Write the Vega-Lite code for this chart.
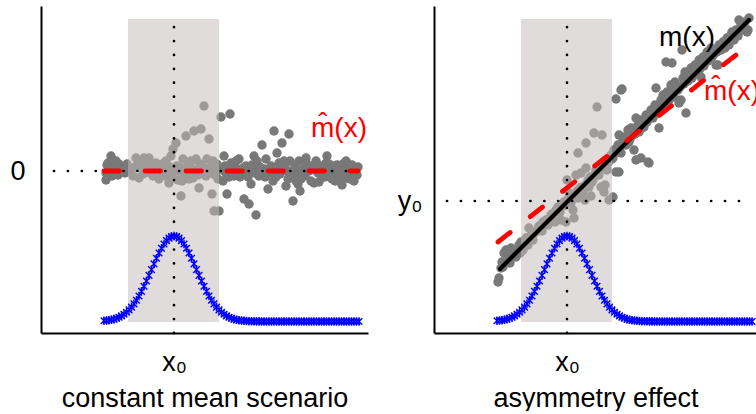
{
"$schema": "https://vega.github.io/schema/vega-lite/v6.json",
"background": "white",
"padding": {"left": 9, "top": 6, "right": 0, "bottom": 0},
"spacing": 66,
"bounds": "flush",
"config": {
  "view": {"stroke": null},
  "font": "Liberation Sans",
  "axis": {"domainColor": "black", "domainWidth": 2, "ticks": false, "tickSize": 0, "grid": false, "labelFont": "Liberation Sans", "labelFontSize": 27, "labelColor": "black", "titleFont": "Liberation Sans", "titleFontSize": 27, "titleFontWeight": "normal", "titleColor": "black", "labelOverlap": false, "labelFlush": false}
},
"datasets": {
  "gauss": [
    {"x":6.3,"y":1.22},{"x":6.55,"y":1.25},{"x":6.8,"y":1.28},{"x":7.05,"y":1.33},{"x":7.3,"y":1.39},{"x":7.55,"y":1.48},{"x":7.8,"y":1.58},{"x":8.05,"y":1.71},{"x":8.3,"y":1.87},{"x":8.55,"y":2.07},{"x":8.8,"y":2.31},{"x":9.05,"y":2.59},{"x":9.3,"y":2.91},{"x":9.55,"y":3.28},{"x":9.8,"y":3.7},{"x":10.05,"y":4.16},{"x":10.3,"y":4.67},{"x":10.55,"y":5.2},{"x":10.8,"y":5.76},{"x":11.05,"y":6.34},{"x":11.3,"y":6.91},{"x":11.55,"y":7.47},{"x":11.8,"y":8.0},{"x":12.05,"y":8.48},{"x":12.3,"y":8.9},{"x":12.55,"y":9.24},{"x":12.8,"y":9.49},{"x":13.05,"y":9.65},{"x":13.3,"y":9.7},{"x":13.55,"y":9.65},{"x":13.8,"y":9.49},{"x":14.05,"y":9.24},{"x":14.3,"y":8.9},{"x":14.55,"y":8.48},{"x":14.8,"y":8.0},{"x":15.05,"y":7.47},{"x":15.3,"y":6.91},{"x":15.55,"y":6.34},{"x":15.8,"y":5.76},{"x":16.05,"y":5.2},{"x":16.3,"y":4.67},{"x":16.55,"y":4.16},{"x":16.8,"y":3.7},{"x":17.05,"y":3.28},{"x":17.3,"y":2.91},{"x":17.55,"y":2.59},{"x":17.8,"y":2.31},{"x":18.05,"y":2.07},{"x":18.3,"y":1.87},{"x":18.55,"y":1.71},{"x":18.8,"y":1.58},{"x":19.05,"y":1.48},{"x":19.3,"y":1.39},{"x":19.55,"y":1.33},{"x":19.8,"y":1.28},{"x":20.05,"y":1.25},{"x":20.3,"y":1.22},{"x":20.55,"y":1.2},{"x":20.8,"y":1.18},{"x":21.05,"y":1.17},{"x":21.3,"y":1.17},{"x":21.55,"y":1.16},{"x":21.8,"y":1.16},{"x":22.05,"y":1.15},{"x":22.3,"y":1.15},{"x":22.55,"y":1.15},{"x":22.8,"y":1.15},{"x":23.05,"y":1.15},{"x":23.3,"y":1.15},{"x":23.55,"y":1.15},{"x":23.8,"y":1.15},{"x":24.05,"y":1.15},{"x":24.3,"y":1.15},{"x":24.55,"y":1.15},{"x":24.8,"y":1.15},{"x":25.05,"y":1.15},{"x":25.3,"y":1.15},{"x":25.55,"y":1.15},{"x":25.8,"y":1.15},{"x":26.05,"y":1.15},{"x":26.3,"y":1.15},{"x":26.55,"y":1.15},{"x":26.8,"y":1.15},{"x":27.05,"y":1.15},{"x":27.3,"y":1.15},{"x":27.55,"y":1.15},{"x":27.8,"y":1.15},{"x":28.05,"y":1.15},{"x":28.3,"y":1.15},{"x":28.55,"y":1.15},{"x":28.8,"y":1.15},{"x":29.05,"y":1.15},{"x":29.3,"y":1.15},{"x":29.55,"y":1.15},{"x":29.8,"y":1.15},{"x":30.05,"y":1.15},{"x":30.3,"y":1.15},{"x":30.55,"y":1.15},{"x":30.8,"y":1.15},{"x":31.05,"y":1.15},{"x":31.3,"y":1.15},{"x":31.55,"y":1.15},{"x":31.8,"y":1.15}
  ],
  "band": [{"x": 8.7, "x2": 17.8, "y": 1.1, "y2": 31.4}],
  "vline": [{"x": 13.3, "y": 0, "y2": 31.8}],
  "leftPts": [
    {"x":6.5,"y":15.3},{"x":6.8,"y":16.4},{"x":7.0,"y":17.7},{"x":7.3,"y":16.7},{"x":7.5,"y":17.2},{"x":7.8,"y":16.9},{"x":8.0,"y":16.2},{"x":8.2,"y":16.5},{"x":6.5,"y":16.0},{"x":7.1,"y":15.7},{"x":7.7,"y":15.8},{"x":8.4,"y":16.0},{"x":6.7,"y":17.0},
    {"x":9.2,"y":15.7},{"x":9.5,"y":17.5},{"x":9.8,"y":15.5},{"x":10.0,"y":16.7},{"x":10.3,"y":17.5},{"x":10.5,"y":16.2},{"x":10.8,"y":17.5},{"x":11.0,"y":16.6},{"x":11.2,"y":15.7},{"x":11.5,"y":17.0},{"x":11.8,"y":15.4},{"x":12.0,"y":16.5},{"x":12.2,"y":16.0},{"x":12.5,"y":17.2},{"x":12.7,"y":15.5},{"x":12.8,"y":15.0},{"x":13.0,"y":17.7},{"x":13.2,"y":18.4},{"x":13.5,"y":19.0},{"x":13.6,"y":16.7},{"x":13.8,"y":16.2},{"x":14.0,"y":13.7},{"x":14.2,"y":17.4},{"x":14.4,"y":15.7},{"x":14.5,"y":19.7},{"x":14.7,"y":16.7},{"x":14.8,"y":15.4},{"x":15.0,"y":17.2},{"x":15.3,"y":20.2},{"x":15.5,"y":17.4},{"x":15.6,"y":16.2},{"x":15.8,"y":14.5},{"x":16.0,"y":20.4},{"x":16.1,"y":16.7},{"x":16.3,"y":22.7},{"x":16.5,"y":15.7},{"x":16.6,"y":17.4},{"x":16.8,"y":19.4},{"x":16.8,"y":16.5},{"x":17.0,"y":16.0},{"x":17.1,"y":13.9},{"x":17.2,"y":17.2},{"x":17.3,"y":12.2},{"x":17.5,"y":16.4},{"x":17.7,"y":15.4},{"x":17.8,"y":12.2},{"x":13.4,"y":16.2},{"x":12.3,"y":17.0},{"x":10.6,"y":16.9},{"x":8.8,"y":16.4},{"x":14.0,"y":16.5},{"x":15.1,"y":16.1},{"x":15.9,"y":16.9},{"x":16.4,"y":16.4},
    {"x":18.0,"y":21.6},{"x":18.9,"y":21.9},{"x":18.3,"y":17.7},{"x":18.4,"y":16.7},{"x":18.2,"y":15.2},{"x":18.6,"y":13.9},{"x":18.7,"y":16.2},{"x":19.0,"y":17.0},{"x":19.3,"y":15.7},{"x":19.6,"y":16.4},{"x":19.8,"y":17.4},{"x":20.0,"y":16.0},{"x":20.3,"y":13.4},{"x":20.5,"y":16.7},{"x":20.8,"y":12.9},{"x":21.0,"y":14.9},{"x":21.2,"y":16.2},{"x":21.5,"y":11.8},{"x":21.6,"y":17.2},{"x":21.8,"y":15.7},{"x":22.1,"y":18.8},{"x":22.3,"y":16.4},{"x":22.5,"y":17.4},{"x":22.7,"y":14.4},{"x":22.8,"y":16.0},{"x":23.0,"y":16.7},{"x":23.3,"y":20.2},{"x":23.5,"y":15.6},{"x":23.8,"y":17.0},{"x":24.1,"y":19.0},{"x":24.3,"y":17.2},{"x":24.5,"y":14.7},{"x":24.6,"y":16.2},{"x":24.8,"y":19.9},{"x":25.0,"y":15.7},{"x":25.2,"y":13.2},{"x":25.4,"y":16.7},{"x":25.6,"y":16.0},{"x":25.8,"y":17.2},{"x":26.0,"y":15.4},{"x":26.2,"y":16.4},{"x":26.4,"y":15.7},{"x":26.6,"y":16.9},{"x":26.8,"y":16.2},{"x":27.0,"y":15.2},{"x":27.2,"y":16.6},{"x":27.3,"y":15.0},{"x":27.5,"y":17.2},{"x":27.7,"y":16.0},{"x":27.9,"y":16.7},{"x":28.1,"y":15.6},{"x":28.3,"y":16.2},{"x":28.5,"y":17.0},{"x":28.7,"y":15.7},{"x":28.9,"y":16.4},{"x":29.1,"y":15.4},{"x":29.3,"y":16.7},{"x":29.5,"y":16.0},{"x":29.7,"y":16.4},{"x":29.8,"y":16.2},{"x":30.0,"y":15.7},{"x":30.2,"y":16.9},{"x":30.4,"y":16.2},{"x":30.6,"y":15.5},{"x":30.8,"y":16.6},{"x":31.0,"y":16.0},{"x":31.2,"y":16.4},{"x":31.3,"y":15.2},{"x":31.5,"y":16.2},{"x":31.7,"y":16.6},{"x":19.5,"y":17.2},{"x":20.7,"y":15.6},{"x":22.0,"y":16.2},{"x":23.2,"y":15.2},{"x":24.0,"y":16.4},{"x":24.9,"y":17.2},{"x":25.7,"y":14.9},{"x":26.5,"y":17.5},{"x":27.8,"y":15.1},{"x":28.6,"y":17.7},{"x":29.4,"y":15.2},{"x":30.5,"y":17.2},{"x":30.1,"y":14.8},{"x":25.9,"y":14.2},{"x":23.6,"y":18.0},{"x":21.3,"y":17.7},
    {"x":6.6,"y":16.8},{"x":7.4,"y":15.9},{"x":7.9,"y":16.0},{"x":8.6,"y":16.9},{"x":9.0,"y":16.3},{"x":9.4,"y":16.6},{"x":9.7,"y":16.9},{"x":10.2,"y":15.9},{"x":10.9,"y":16.0},{"x":11.3,"y":16.4},{"x":11.7,"y":16.8},{"x":12.1,"y":15.8},{"x":12.6,"y":16.3},{"x":12.9,"y":16.6},{"x":13.1,"y":15.9},{"x":13.7,"y":15.3},{"x":14.1,"y":15.2},{"x":14.3,"y":16.0},{"x":14.6,"y":15.8},{"x":14.9,"y":16.9},{"x":15.2,"y":15.5},{"x":15.4,"y":16.3},{"x":15.7,"y":15.8},{"x":16.2,"y":16.1},{"x":16.7,"y":16.3},{"x":17.1,"y":16.6},{"x":17.4,"y":15.8},{"x":17.6,"y":16.9},{"x":18.1,"y":16.3},{"x":18.5,"y":16.0},{"x":18.8,"y":15.6},{"x":19.2,"y":16.3},{"x":19.9,"y":15.6},{"x":20.2,"y":16.5},{"x":20.6,"y":15.9},{"x":21.1,"y":16.8},{"x":21.4,"y":16.0},{"x":21.9,"y":16.6},{"x":22.4,"y":15.6},{"x":22.9,"y":16.5},{"x":23.4,"y":16.2},{"x":23.9,"y":15.9},{"x":24.4,"y":16.6},{"x":24.7,"y":15.4},{"x":25.3,"y":16.3},{"x":25.5,"y":15.2},{"x":26.1,"y":15.9},{"x":26.9,"y":16.7},{"x":27.4,"y":16.3},{"x":28.0,"y":16.6},{"x":28.4,"y":15.6},{"x":28.8,"y":16.9},{"x":29.2,"y":15.9},{"x":29.6,"y":16.8},{"x":29.9,"y":15.5},{"x":30.3,"y":16.4},{"x":30.7,"y":16.0},{"x":30.9,"y":15.4},{"x":31.1,"y":16.8},{"x":31.6,"y":15.8}
  ],
  "rightPts": [
    {"x":6.4,"y":5.1},{"x":6.5,"y":5.5},{"x":6.7,"y":6.5},{"x":6.8,"y":7.1},{"x":7.0,"y":8.0},{"x":7.2,"y":8.3},{"x":7.4,"y":7.5},{"x":7.7,"y":8.5},{"x":7.9,"y":7.8},{"x":8.2,"y":7.6},{"x":8.5,"y":8.8},{"x":8.7,"y":9.1},{"x":8.9,"y":8.3},{"x":9.2,"y":9.5},{"x":9.4,"y":8.8},{"x":9.5,"y":10.5},{"x":9.7,"y":9.8},{"x":9.9,"y":9.3},{"x":10.2,"y":10.1},{"x":10.5,"y":10.7},{"x":10.7,"y":10.3},{"x":10.9,"y":11.1},{"x":11.2,"y":11.3},{"x":11.4,"y":10.8},{"x":11.7,"y":11.8},{"x":11.9,"y":11.6},{"x":12.1,"y":11.1},{"x":12.4,"y":12.6},{"x":12.6,"y":12.1},{"x":12.7,"y":11.3},{"x":13.0,"y":13.1},{"x":13.2,"y":11.1},{"x":13.3,"y":15.3},{"x":13.5,"y":14.0},{"x":13.7,"y":13.0},{"x":13.9,"y":12.3},{"x":14.0,"y":11.5},{"x":14.2,"y":14.0},{"x":14.2,"y":15.8},{"x":14.4,"y":13.5},{"x":14.4,"y":18.0},{"x":14.6,"y":14.5},{"x":14.7,"y":16.0},{"x":14.9,"y":14.1},{"x":15.1,"y":13.3},{"x":15.2,"y":16.5},{"x":15.2,"y":19.0},{"x":15.4,"y":15.3},{"x":15.5,"y":14.6},{"x":15.7,"y":13.7},{"x":15.8,"y":15.1},{"x":15.9,"y":15.3},{"x":16.0,"y":20.0},{"x":16.2,"y":16.3},{"x":16.3,"y":22.6},{"x":16.5,"y":15.8},{"x":16.7,"y":14.6},{"x":16.7,"y":16.5},{"x":16.8,"y":19.8},{"x":17.0,"y":14.1},{"x":17.1,"y":14.8},{"x":17.2,"y":17.3},{"x":17.3,"y":16.3},{"x":17.5,"y":13.3},{"x":17.7,"y":17.8},{"x":17.9,"y":13.6},{"x":17.9,"y":17.5},{"x":18.0,"y":18.3},{"x":18.2,"y":16.1},{"x":18.2,"y":23.4},{"x":18.4,"y":18.8},{"x":18.5,"y":19.8},{"x":18.5,"y":16.1},{"x":18.7,"y":18.0},{"x":18.7,"y":24.3},{"x":18.8,"y":24.4},{"x":18.9,"y":19.3},{"x":19.0,"y":19.6},{"x":19.2,"y":18.8},{"x":19.4,"y":20.3},{"x":19.5,"y":19.1},{"x":19.7,"y":20.5},{"x":19.9,"y":19.8},{"x":20.0,"y":18.3},{"x":20.2,"y":17.3},{"x":20.2,"y":21.5},{"x":20.4,"y":20.8},{"x":20.6,"y":21.3},{"x":20.7,"y":17.5},{"x":20.8,"y":20.5},{"x":21.0,"y":20.6},{"x":21.2,"y":21.8},{"x":21.4,"y":17.1},{"x":21.5,"y":21.8},{"x":21.5,"y":17.0},{"x":21.7,"y":22.3},{"x":21.9,"y":21.5},{"x":22.1,"y":22.8},{"x":22.2,"y":24.5},{"x":22.4,"y":22.1},{"x":22.5,"y":20.5},{"x":22.7,"y":23.3},{"x":22.9,"y":23.8},{"x":23.0,"y":22.5},{"x":23.2,"y":27.1},{"x":23.3,"y":24.1},{"x":23.5,"y":23.3},{"x":23.7,"y":24.8},{"x":23.8,"y":27.0},{"x":23.9,"y":24.0},{"x":24.1,"y":25.1},{"x":24.3,"y":24.3},{"x":24.5,"y":23.0},{"x":24.7,"y":23.3},{"x":24.8,"y":28.3},{"x":24.9,"y":25.5},{"x":25.1,"y":26.1},{"x":25.2,"y":22.0},{"x":25.3,"y":25.3},{"x":25.5,"y":26.1},{"x":25.7,"y":26.5},{"x":25.9,"y":25.8},{"x":26.1,"y":26.8},{"x":26.3,"y":26.3},{"x":26.5,"y":27.3},{"x":26.7,"y":25.6},{"x":26.9,"y":27.6},{"x":27.1,"y":27.1},{"x":27.3,"y":28.1},{"x":27.5,"y":27.5},{"x":27.7,"y":28.5},{"x":27.9,"y":27.8},{"x":28.2,"y":26.8},{"x":28.4,"y":26.8},{"x":28.5,"y":28.8},{"x":28.7,"y":28.3},{"x":28.9,"y":29.1},{"x":29.1,"y":28.5},{"x":29.3,"y":29.5},{"x":29.5,"y":28.8},{"x":29.7,"y":29.8},{"x":29.8,"y":30.1},{"x":30.0,"y":29.3},{"x":30.2,"y":30.3},{"x":30.4,"y":29.7},{"x":30.5,"y":31.3},{"x":30.7,"y":30.8},{"x":30.9,"y":30.3},{"x":31.1,"y":31.1},{"x":31.3,"y":30.1},{"x":31.4,"y":30.3},{"x":31.5,"y":31.5},
    {"x":6.9,"y":6.6},{"x":7.3,"y":7.3},{"x":7.6,"y":7.0},{"x":8.0,"y":8.1},{"x":8.3,"y":8.3},{"x":8.6,"y":8.0},{"x":9.0,"y":8.9},{"x":9.3,"y":9.0},{"x":9.6,"y":9.6},{"x":10.0,"y":10.0},{"x":10.4,"y":10.4},{"x":10.8,"y":10.2},{"x":11.1,"y":11.0},{"x":11.5,"y":11.4},{"x":11.8,"y":11.9},{"x":12.2,"y":12.3},{"x":12.9,"y":12.7},{"x":13.4,"y":13.4},{"x":13.8,"y":13.7},{"x":14.3,"y":14.2},{"x":14.8,"y":14.6},{"x":15.3,"y":15.0},{"x":15.6,"y":15.6},{"x":16.1,"y":15.9},{"x":16.4,"y":16.4},{"x":16.9,"y":16.7},{"x":17.4,"y":17.0},{"x":17.8,"y":17.4},{"x":18.3,"y":18.1},{"x":18.6,"y":18.6},{"x":19.1,"y":18.9},{"x":19.6,"y":19.4},{"x":20.1,"y":19.9},{"x":20.5,"y":20.1},{"x":20.9,"y":20.7},{"x":21.3,"y":21.1},{"x":21.8,"y":21.6},{"x":22.3,"y":22.0},{"x":22.8,"y":22.6},{"x":23.4,"y":23.1},{"x":23.6,"y":23.6},{"x":24.0,"y":23.6},{"x":24.4,"y":24.3},{"x":24.6,"y":24.6},{"x":25.0,"y":24.9},{"x":25.4,"y":25.2},{"x":25.8,"y":25.5},{"x":26.2,"y":26.0},{"x":26.6,"y":26.4},{"x":27.0,"y":26.7},{"x":27.4,"y":27.2},{"x":27.8,"y":27.6},{"x":28.0,"y":27.9},{"x":28.3,"y":28.1},{"x":28.8,"y":28.6},{"x":29.2,"y":29.0},{"x":29.6,"y":29.4},{"x":30.1,"y":29.9},{"x":30.6,"y":30.4},{"x":31.0,"y":30.9}
  ]
},
"hconcat": [
  {
    "width": 327, "height": 327,
    "encoding": {
      "x": {"field": "x", "type": "quantitative", "scale": {"domain": [0, 32.7], "nice": false, "zero": false},
            "axis": {"values": [13.3], "labelExpr": "'x₀'", "labelPadding": 16, "title": "constant mean scenario", "titlePadding": 10}},
      "y": {"field": "y", "type": "quantitative", "scale": {"domain": [0, 32.7], "nice": false, "zero": false},
            "axis": {"values": [16.2], "labelExpr": "'0'", "labelPadding": 16, "title": null}}
    },
    "layer": [
      {"data": {"name": "leftPts"}, "mark": {"type": "circle", "size": 88, "color": "#787878", "opacity": 1}},
      {"data": {"name": "band"}, "mark": {"type": "rect", "color": "#c3bcbc", "opacity": 0.52}, "encoding": {"x2": {"field": "x2"}, "y2": {"field": "y2"}}},
      {"data": {"name": "vline"}, "mark": {"type": "rule", "color": "black", "strokeWidth": 2.7, "strokeCap": "round", "strokeDash": [0.1, 13.8]}, "encoding": {"y2": {"field": "y2"}}},
      {"data": {"values": [{"x": 1.3, "x2": 31.8, "y": 16.2}]}, "mark": {"type": "rule", "color": "black", "strokeWidth": 2.7, "strokeCap": "round", "strokeDash": [0.1, 13.8]}, "encoding": {"x2": {"field": "x2"}}},
      {"data": {"values": [{"x": 6.3, "y": 16.2}, {"x": 31.7, "y": 16.2}]}, "mark": {"type": "line", "color": "#ff0000", "strokeWidth": 4.8, "strokeCap": "round", "strokeDash": [15.5, 25.5]}},
      {"data": {"name": "gauss"}, "mark": {"type": "point", "shape": "M-1,-1L1,1M-1,1L1,-1M0,-1.3L0,1.3", "size": 44, "color": "#0000ff", "filled": false, "strokeWidth": 1.4, "opacity": 1}},
      {"data": {"values": [{"x": 27.0, "y": 20.45, "t": "m̂(x)"}]}, "mark": {"type": "text", "align": "left", "baseline": "middle", "fontSize": 28, "color": "#ff0000"}, "encoding": {"text": {"field": "t"}}}
    ]
  },
  {
    "width": 323, "height": 327,
    "encoding": {
      "x": {"field": "x", "type": "quantitative", "scale": {"domain": [0, 32.3], "nice": false, "zero": false},
            "axis": {"values": [13.3], "labelExpr": "'x₀'", "labelPadding": 16, "title": "asymmetry effect", "titlePadding": 10}},
      "y": {"field": "y", "type": "quantitative", "scale": {"domain": [0, 32.7], "nice": false, "zero": false},
            "axis": {"values": [13.2], "labelExpr": "'y₀'", "labelPadding": 12, "title": null}}
    },
    "layer": [
      {"data": {"name": "rightPts"}, "mark": {"type": "circle", "size": 88, "color": "#787878", "opacity": 1}},
      {"data": {"name": "band"}, "mark": {"type": "rect", "color": "#c3bcbc", "opacity": 0.52}, "encoding": {"x2": {"field": "x2"}, "y2": {"field": "y2"}}},
      {"data": {"name": "vline"}, "mark": {"type": "rule", "color": "black", "strokeWidth": 2.7, "strokeCap": "round", "strokeDash": [0.1, 13.8]}, "encoding": {"y2": {"field": "y2"}}},
      {"data": {"values": [{"x": 1.3, "x2": 31.8, "y": 13.2}]}, "mark": {"type": "rule", "color": "black", "strokeWidth": 2.7, "strokeCap": "round", "strokeDash": [0.1, 13.8]}, "encoding": {"x2": {"field": "x2"}}},
      {"data": {"values": [{"x": 6.6, "y": 6.4}, {"x": 31.5, "y": 31.3}]}, "mark": {"type": "line", "color": "black", "strokeWidth": 4.2, "strokeCap": "round"}},
      {"data": {"values": [{"x": 6.4, "y": 9.1}, {"x": 30.2, "y": 27.8}]}, "mark": {"type": "line", "color": "#ff0000", "strokeWidth": 4.8, "strokeCap": "round", "strokeDash": [15.5, 25.5]}},
      {"data": {"name": "gauss"}, "mark": {"type": "point", "shape": "M-1,-1L1,1M-1,1L1,-1M0,-1.3L0,1.3", "size": 44, "color": "#0000ff", "filled": false, "strokeWidth": 1.4, "opacity": 1}},
      {"data": {"values": [{"x": 22.5, "y": 29.5, "t": "m(x)"}]}, "mark": {"type": "text", "align": "left", "baseline": "middle", "fontSize": 28, "color": "black"}, "encoding": {"text": {"field": "t"}}},
      {"data": {"values": [{"x": 27.0, "y": 24.1, "t": "m̂(x)"}]}, "mark": {"type": "text", "align": "left", "baseline": "middle", "fontSize": 28, "color": "#ff0000", "clip": true}, "encoding": {"text": {"field": "t"}}}
    ]
  }
]
}
